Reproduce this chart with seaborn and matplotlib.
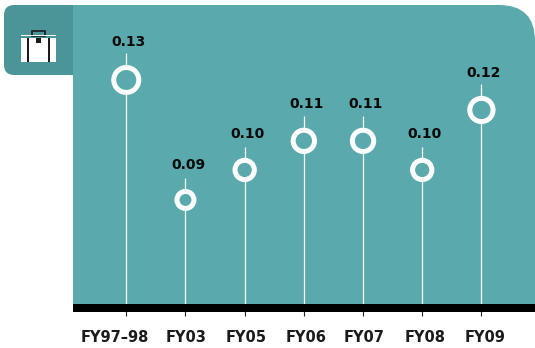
import matplotlib
matplotlib.use("Agg")
import matplotlib.pyplot as plt
import pandas as pd
import seaborn as sns
from matplotlib.patches import PathPatch, Rectangle
from matplotlib.path import Path
from matplotlib.transforms import ScaledTranslation

years = ["FY97–98", "FY03", "FY05", "FY06", "FY07", "FY08", "FY09"]
values = [0.13, 0.09, 0.10, 0.1097, 0.1097, 0.10, 0.12]

TEAL = "#5AA9AD"
TAB = "#4B9598"
W, H = 535, 348

# the year labels do not sit exactly under their ticks in the original (pixels)
label_shift = [-11, 1, 1.5, 2, 1, 3, 4]

sns.set_theme(style="white")
plt.rcParams["font.family"] = ["DejaVu Sans"]

df = pd.DataFrame({"year": years, "value": values})

fig = plt.figure(figsize=(W / 100, H / 100), dpi=100, facecolor="white")

# background shapes, in pixels
bg = fig.add_axes([0, 0, 1, 1])
bg.set_xlim(0, W)
bg.set_ylim(H, 0)
bg.axis("off")


def rounded(x0, y0, x1, y1, tl=0, tr=0, bl=0):
    verts = [
        (x0 + tl, y0),
        (x1 - tr, y0), (x1, y0), (x1, y0 + tr),
        (x1, y1),
        (x0 + bl, y1), (x0, y1), (x0, y1 - bl),
        (x0, y0 + tl), (x0, y0), (x0 + tl, y0),
    ]
    codes = [
        Path.MOVETO,
        Path.LINETO, Path.CURVE3, Path.CURVE3,
        Path.LINETO,
        Path.LINETO, Path.CURVE3, Path.CURVE3,
        Path.LINETO, Path.CURVE3, Path.CURVE3,
    ]
    return Path(verts, codes)


bg.add_patch(PathPatch(rounded(73, 5, 535, 304, tr=36), fc=TEAL, ec="none"))
bg.add_patch(PathPatch(rounded(4, 5, 73, 75, tl=10, bl=10), fc=TAB, ec="none"))

# suitcase icon
bg.add_patch(Rectangle((32, 31), 13, 5, fc="none", ec="#1a1a1a", lw=1.2))
bg.add_patch(Rectangle((21, 35), 35, 1, fc="white", ec="none"))
bg.add_patch(Rectangle((21, 37.5), 35, 24.5, fc="white", ec="none"))
bg.add_patch(Rectangle((27, 37.5), 2, 24.5, fc="#1a1a1a", ec="none"))
bg.add_patch(Rectangle((48, 37.5), 2, 24.5, fc="#1a1a1a", ec="none"))
bg.add_patch(Rectangle((36, 37.5), 5, 5.5, fc="#1a1a1a", ec="none"))

# chart
ax = fig.add_axes([73 / W, 1 - 304 / H, (W - 73) / W, 299 / H])
ax.patch.set_alpha(0)

base = 0.0553
stem_tops = [v + 0.0073 + (v - 0.09) * 0.042 for v in values]
ax.vlines(range(len(years)), base, stem_tops, color="white", lw=0.9, zorder=1)

sns.scatterplot(
    data=df,
    x="year",
    y="value",
    size="value",
    sizes=(150, 324),
    color=TEAL,
    edgecolor="white",
    linewidth=3.6,
    legend=False,
    zorder=2,
    clip_on=False,
    ax=ax,
)

for i, v in enumerate(values):
    ax.annotate(
        f"{v:.2f}",
        (i, v),
        xytext=(1.8, 25 + (v - 0.09) * 60),
        textcoords="offset points",
        ha="center",
        va="center",
        fontsize=10,
        fontweight="bold",
        color="#0a0a0a",
    )

ax.set_xlim(-0.90, 6.905)
ax.set_ylim(base, 0.155)
ax.set_xlabel("")
ax.set_ylabel("")
ax.set_yticks([])

for side in ["top", "left", "right"]:
    ax.spines[side].set_visible(False)

ax.spines["bottom"].set_position(("outward", 2.88))
ax.spines["bottom"].set_linewidth(5.76)
ax.spines["bottom"].set_color("black")
ax.spines["bottom"].set_capstyle("butt")

ax.tick_params(axis="x", bottom=True, length=5.76, width=0.8, color="#222222", pad=10.2, labelsize=10.5)
for label, dx in zip(ax.get_xticklabels(), label_shift):
    label.set_fontweight("bold")
    label.set_color("#1a1a1a")
    label.set_transform(label.get_transform() + ScaledTranslation(dx / 100, 0, fig.dpi_scale_trans))

fig.savefig("out.png", dpi=100)
plt.close(fig)
